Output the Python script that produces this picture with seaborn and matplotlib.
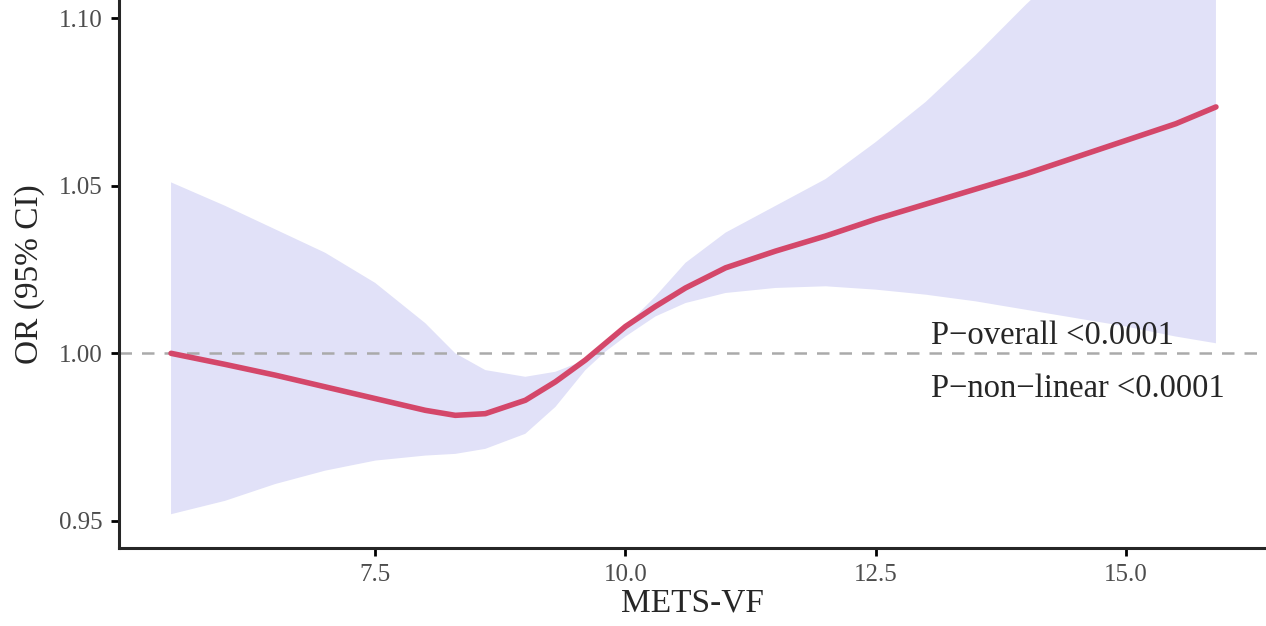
"""
restricted cubic spline plot: OR (95% CI) vs METS-VF
"""
import numpy as np
import pandas as pd
import seaborn as sns
import matplotlib
matplotlib.use("Agg")
import matplotlib.pyplot as plt

# values
mets_vf = [5.46, 6.0, 6.5, 7.0, 7.5, 8.0, 8.3, 8.6, 9.0, 9.3, 9.6, 9.8, 10.0,
           10.3, 10.6, 11.0, 11.5, 12.0, 12.5, 13.0, 13.5, 14.0, 14.5, 15.0,
           15.5, 15.9]
odds_ratio = [1.000, 0.9967, 0.9935, 0.9900, 0.9865, 0.9830, 0.9815, 0.9820,
              0.9860, 0.9915, 0.9980, 1.0030, 1.0080, 1.0140, 1.0195, 1.0255,
              1.0305, 1.0350, 1.0400, 1.0445, 1.0490, 1.0535, 1.0585, 1.0635,
              1.0685, 1.0735]
ci_upper = [1.051, 1.044, 1.037, 1.030, 1.021, 1.009, 1.000, 0.995, 0.993,
            0.9945, 0.998, 1.002, 1.008, 1.017, 1.027, 1.036, 1.044, 1.052,
            1.063, 1.075, 1.089, 1.104, 1.118, 1.132, 1.145, 1.156]
ci_lower = [0.952, 0.956, 0.961, 0.965, 0.968, 0.9695, 0.970, 0.9715, 0.976,
            0.984, 0.995, 1.0005, 1.005, 1.011, 1.015, 1.018, 1.0195, 1.020,
            1.019, 1.0175, 1.0155, 1.013, 1.0105, 1.008, 1.005, 1.003]
y_ticks = [0.95, 1.00, 1.05, 1.10]
x_ticks = [7.5, 10.0, 12.5, 15.0]
p_labels = ["P\u2212overall <0.0001", "P\u2212non\u2212linear <0.0001"]

df = pd.DataFrame({"METS-VF": mets_vf, "OR": odds_ratio,
                   "lo": ci_lower, "hi": ci_upper})

sns.set_style("ticks")
plt.rcParams["font.family"] = ["Liberation Serif", "DejaVu Serif"]
plt.rcParams["axes.linewidth"] = 2.2

fig = plt.figure(figsize=(12.66, 6.26), dpi=100)
ax = fig.add_axes([0.094, 0.125, 0.906, 0.875])

ax.fill_between(df["METS-VF"], df["lo"], df["hi"], color="#e1e1f8", lw=0)
ax.axhline(1.0, color="#aaaaaa", lw=1.8, ls=(0, (5, 4)))
sns.lineplot(data=df, x="METS-VF", y="OR", ax=ax, color="#d4476a", lw=4)

ax.set_ylim(0.942, 1.1054)
ax.set_xlim(4.94, 16.4)
ax.set_yticks(y_ticks)
ax.set_yticklabels([f"{v:.2f}" for v in y_ticks])
ax.set_xticks(x_ticks)
ax.set_xticklabels([f"{v:.1f}" for v in x_ticks])
ax.tick_params(labelsize=18, colors="black", width=2, length=6, pad=6)
for lab in ax.get_xticklabels() + ax.get_yticklabels():
    lab.set_color("#4d4d4d")

ax.set_xlabel("METS-VF", fontsize=24, labelpad=1)
ax.set_ylabel("OR (95% CI)", fontsize=24, labelpad=10)
sns.despine(ax=ax)

ax.text(13.05, 1.0027, p_labels[0], fontsize=23.5, va="baseline", ha="left")
ax.text(13.05, 0.9869, p_labels[1], fontsize=23.5, va="baseline", ha="left")

plt.savefig("out.png", dpi=100)
